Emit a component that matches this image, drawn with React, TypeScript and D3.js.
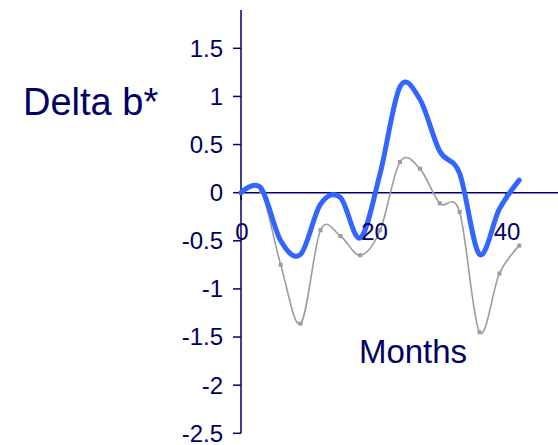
import React from "react";
import * as d3 from "d3";

const months = [0, 3, 6, 9, 12, 15, 18, 21, 24, 27, 30, 33, 36, 39, 42];
const blueSeries = [0, 0.05, -0.5, -0.64, -0.12, -0.05, -0.47, 0.2, 1.1, 0.97, 0.43, 0.2, -0.64, -0.17, 0.13];
const graySeries = [0, 0.02, -0.75, -1.36, -0.39, -0.45, -0.65, -0.39, 0.32, 0.25, -0.11, -0.2, -1.45, -0.84, -0.55];
const yTicks = [1.5, 1, 0.5, 0, -0.5, -1, -1.5, -2, -2.5];
const xTicks = [0, 20, 40];

const NAVY = "#000066";

export default function App() {
  const x = d3.scaleLinear().domain([0, 40]).range([241, 506]);
  const y = d3.scaleLinear().domain([-2.5, 1.5]).range([433.3, 48.3]);
  const line = d3
    .line<number>()
    .x((_, i) => x(months[i]))
    .y((d) => y(d))
    .curve(d3.curveCatmullRom.alpha(0));
  const font = "'Liberation Sans', Arial, sans-serif";
  return (
    <svg width={558} height={445} style={{ position: "absolute", left: 0, top: 0 }} fontFamily={font}>
      <rect width={558} height={445} fill="#fff" />
      {/* y axis */}
      <line x1={x(0)} x2={x(0)} y1={10} y2={y(-2.5)} stroke={NAVY} strokeWidth={1.5} />
      {yTicks.map((t) => (
        <g key={t}>
          <line x1={x(0) - 8} x2={x(0)} y1={y(t)} y2={y(t)} stroke={NAVY} strokeWidth={1.5} />
          <text x={223} y={y(t)} dy="0.35em" textAnchor="end" fontSize={24} fill={NAVY}>
            {t}
          </text>
        </g>
      ))}
      {/* x axis */}
      <line x1={x(0)} x2={558} y1={y(0)} y2={y(0)} stroke={NAVY} strokeWidth={1.5} />
      {xTicks.map((t) => (
        <g key={t}>
          <line x1={x(t)} x2={x(t)} y1={y(0)} y2={y(0) + 7} stroke={NAVY} strokeWidth={1.5} />
        </g>
      ))}
      {/* gray series */}
      <path d={line(graySeries) || ""} fill="none" stroke="#9c9c9c" strokeWidth={1.6} />
      {graySeries.map((v, i) => (
        <rect key={i} x={x(months[i]) - 2} y={y(v) - 2} width={4} height={4} fill="#9c9c9c" />
      ))}
      {/* blue series */}
      <path
        d={line(blueSeries) || ""}
        fill="none"
        stroke="#3366ff"
        strokeWidth={5}
        strokeLinejoin="round"
        strokeLinecap="round"
      />
      {xTicks.map((t) => (
        <text key={t} x={x(t) + 1} y={240} textAnchor="middle" fontSize={24} fill={NAVY}>
          {t}
        </text>
      ))}
      <text x={23} y={115} fontSize={38} fill={NAVY}>
        Delta b*
      </text>
      <text x={413} y={363} textAnchor="middle" fontSize={33} fill={NAVY}>
        Months
      </text>
    </svg>
  );
}
